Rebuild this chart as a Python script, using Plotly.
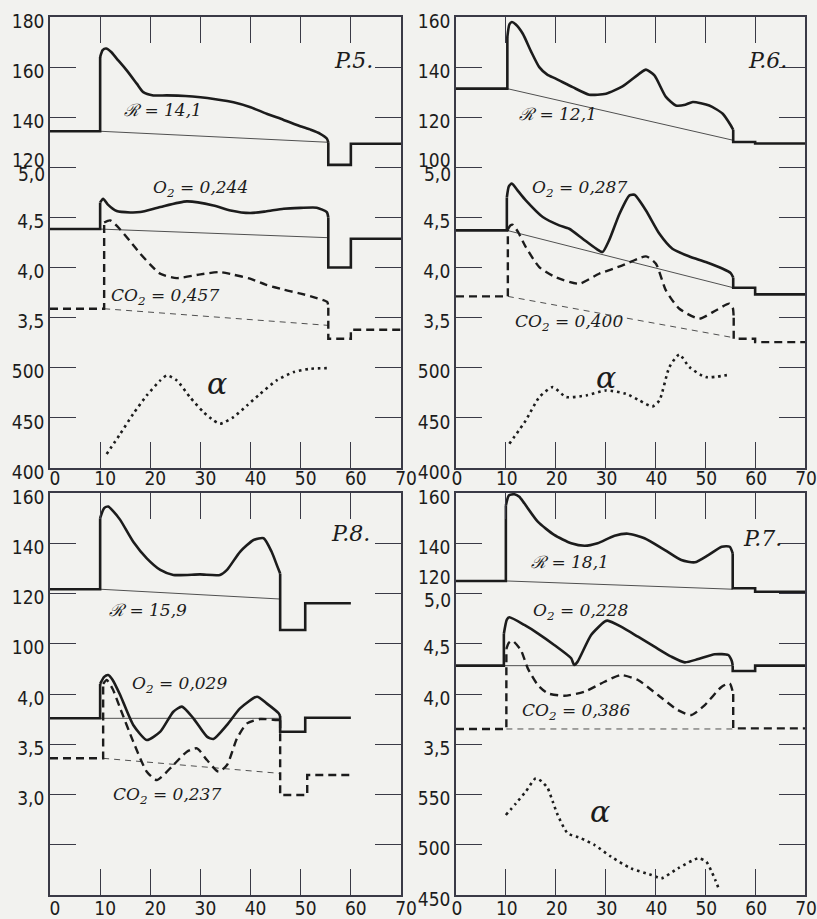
import plotly.graph_objects as go

W, H = 817, 919

# ---------------- DATA ----------------
X_TICKS = [0, 10, 20, 30, 40, 50, 60, 70]
X_TICK_TEXT = ["0", "10", "20", "30", "40", "50", "60", "70"]

# ---- P.5 ----
p5_R_x = [0, 10, 10, 10.5, 11.2, 12.2, 13.3, 15.3, 17.3, 18.6, 20.6, 23.3, 27, 30, 33, 36.6, 40, 43.2, 46.5, 49.9, 52, 53.9, 55.2, 55.5, 55.5, 60, 60, 70]
p5_R_y = [134.4, 134.4, 164, 166.8, 167.4, 166, 163.4, 158.7, 153.4, 150, 148.7, 148.7, 148.5, 148, 147.2, 146, 144, 141.4, 139, 136.4, 135, 133.4, 131.5, 130, 121, 121, 129.4, 129.4]
p5_O2_x = [0, 10, 10, 10.6, 11.5, 13.3, 16, 18, 22, 27.3, 32.6, 36, 39.9, 43, 46.6, 50, 53.2, 55.2, 55.5, 55.5, 60, 60, 70]
p5_O2_y = [4.384, 4.384, 4.65, 4.687, 4.63, 4.564, 4.55, 4.554, 4.604, 4.66, 4.62, 4.57, 4.544, 4.56, 4.587, 4.595, 4.597, 4.554, 4.5, 4.0, 4.0, 4.288, 4.288]
p5_CO2_x = [0, 10.8, 10.8, 12, 14, 16, 18, 20, 22, 25.3, 30, 33.9, 36.5, 39.9, 43, 46.6, 50, 53.2, 55.3, 55.5, 55.5, 60, 60, 70]
p5_CO2_y = [3.589, 3.589, 4.45, 4.471, 4.38, 4.26, 4.138, 4.03, 3.938, 3.895, 3.932, 3.955, 3.93, 3.889, 3.83, 3.779, 3.74, 3.696, 3.656, 3.6, 3.29, 3.29, 3.38, 3.38]
p5_A_x = [11.3, 14, 16.6, 19.3, 22, 23.3, 25.3, 27.9, 30.6, 32.6, 33.9, 36.6, 39.3, 41.9, 45.2, 48.6, 51.9, 55.6]
p5_A_y = [414, 434, 454, 472.4, 487.4, 492.4, 487.4, 470.7, 455.8, 447.5, 444.1, 450.8, 462.4, 474, 487.4, 495.7, 499, 499.7]
p5_R_base = ([10, 55.5], [134.4, 130])
p5_O2_base = ([10, 55.5], [4.384, 4.298])
p5_CO2_base = ([10.8, 55.5], [3.589, 3.423])

# ---- P.6 ----
p6_R_x = [0, 10.3, 10.3, 10.7, 11.2, 12, 13.4, 15, 16.7, 18.3, 20, 23.4, 26.7, 30.1, 33.4, 36.8, 38.1, 39.8, 42.1, 44.1, 46, 47.5, 50.8, 53.5, 55.1, 55.6, 55.6, 60, 60, 70]
p6_R_y = [131.4, 131.4, 152, 157, 158, 157, 153.3, 146.5, 140, 137, 135.4, 132, 129, 129.4, 132.3, 137.4, 139, 136.7, 128.1, 124.7, 125, 126.1, 124.7, 121.4, 116.8, 115, 110.1, 110.1, 109.5, 109.5]
p6_O2_x = [0, 10.2, 10.2, 10.6, 11.2, 12.5, 14, 17.4, 20.7, 22.7, 25.4, 28.1, 29.4, 30.7, 32.8, 34.8, 35.8, 38.1, 40.8, 43.4, 46.8, 50.1, 53.5, 55.1, 55.6, 55.6, 60, 60, 70]
p6_O2_y = [4.371, 4.371, 4.7, 4.81, 4.837, 4.76, 4.67, 4.504, 4.421, 4.387, 4.288, 4.188, 4.155, 4.271, 4.537, 4.72, 4.726, 4.57, 4.337, 4.188, 4.111, 4.055, 3.988, 3.945, 3.9, 3.799, 3.799, 3.732, 3.732]
p6_CO2_x = [0, 10.4, 10.4, 10.9, 11.4, 12.5, 14, 16.7, 20, 24.7, 28.7, 33.4, 38.1, 40.1, 42.1, 44.8, 48.8, 52.1, 54.8, 55.5, 55.7, 55.7, 60, 60, 70]
p6_CO2_y = [3.712, 3.712, 4.38, 4.42, 4.427, 4.35, 4.205, 4.005, 3.903, 3.839, 3.938, 4.021, 4.111, 4.038, 3.772, 3.589, 3.49, 3.572, 3.64, 3.6, 3.5, 3.29, 3.29, 3.256, 3.256]
p6_A_x = [10.7, 14, 16.7, 19.4, 22.1, 26.1, 30.1, 34.1, 36.8, 39.4, 40.8, 42.8, 44.8, 46.8, 50.1, 55.1]
p6_A_y = [424.2, 447.5, 470.7, 480.7, 470.8, 472.4, 477.4, 474, 467.4, 461.4, 467.4, 500.7, 513.3, 500.7, 490.7, 493.3]
p6_R_base = ([10.3, 55.6], [131.4, 110.8])
p6_O2_base = ([10.2, 55.6], [4.371, 3.799])
p6_CO2_base = ([10.4, 55.7], [3.712, 3.30])

# ---- P.8 ----
p8_R_x = [0, 10, 10, 10.8, 11.6, 12.5, 14, 16.6, 19.3, 22, 24.6, 29.9, 33.9, 35.3, 37.9, 40.6, 42.6, 44.2, 45.3, 45.9, 45.9, 50.9, 50.9, 60]
p8_R_y = [121.7, 121.7, 150, 154, 154.6, 153, 149.3, 140.6, 134, 129.4, 127.4, 127.6, 127.4, 129.4, 136.6, 141.3, 142, 136.6, 131, 128, 105.5, 105.5, 116.1, 116.1]
p8_O2_x = [0, 10, 10, 10.8, 11.6, 12.5, 14, 16.6, 19.3, 22, 24.6, 26.3, 28.6, 31.3, 32.6, 35.3, 37.9, 41.3, 43.2, 45.6, 45.9, 45.9, 50.9, 50.9, 60]
p8_O2_y = [3.758, 3.758, 4.1, 4.17, 4.189, 4.14, 3.99, 3.692, 3.542, 3.625, 3.824, 3.874, 3.758, 3.576, 3.552, 3.692, 3.857, 3.973, 3.907, 3.808, 3.78, 3.625, 3.625, 3.764, 3.764]
p8_CO2_x = [0, 10.6, 10.6, 11.3, 12.5, 14, 16.6, 19.3, 21.3, 24.6, 27.3, 29.3, 31.3, 33.6, 35.3, 37.3, 39.3, 41.9, 45.2, 45.9, 45.9, 51.3, 51.3, 60]
p8_CO2_y = [3.36, 3.36, 4.1, 4.14, 4.05, 3.857, 3.526, 3.227, 3.144, 3.293, 3.426, 3.459, 3.343, 3.227, 3.293, 3.559, 3.708, 3.751, 3.741, 3.74, 2.995, 2.995, 3.194, 3.194]
p8_R_base = ([10, 45.9], [121.7, 117.8])
p8_O2_base = ([10, 45.9], [3.758, 3.758])
p8_CO2_base = ([10.6, 45.9], [3.36, 3.21])

# ---- P.7 ----
p7_R_x = [0, 10, 10, 10.6, 11.7, 12.7, 13.7, 16.4, 19.7, 23.1, 25.8, 28.4, 31.8, 34.5, 37.8, 41.9, 45.2, 47.9, 50.6, 53.3, 54.9, 55.5, 55.5, 60, 60, 70]
p7_R_y = [125, 125, 155, 159, 159.5, 158.5, 155.9, 148.6, 143.3, 140, 139, 140, 143, 143.8, 142, 137.3, 133.3, 132.4, 135.3, 138.6, 138.6, 136, 122.1, 122.1, 120.7, 120.7]
p7_O2_x = [0, 9.6, 9.6, 10.2, 10.7, 13.7, 16.4, 19.7, 23.1, 23.7, 24.4, 27.1, 29.8, 30.4, 33.1, 36.5, 39.8, 43.2, 45.9, 48.6, 51.9, 54.6, 55.3, 55.5, 55.5, 60, 60, 70]
p7_O2_y = [4.282, 4.282, 4.6, 4.74, 4.763, 4.687, 4.604, 4.488, 4.355, 4.289, 4.322, 4.587, 4.72, 4.73, 4.67, 4.57, 4.471, 4.371, 4.315, 4.348, 4.395, 4.388, 4.33, 4.282, 4.229, 4.229, 4.282, 4.282]
p7_CO2_x = [0, 10.1, 10.1, 10.6, 11.3, 13, 14.4, 16.4, 18.4, 21.7, 25.8, 29.8, 33.1, 36.5, 40.5, 44.5, 47.2, 49.9, 53.3, 54.9, 55.6, 55.6, 70]
p7_CO2_y = [3.652, 3.652, 4.45, 4.51, 4.531, 4.438, 4.255, 4.09, 4.007, 3.983, 4.023, 4.122, 4.189, 4.139, 3.99, 3.84, 3.791, 3.89, 4.073, 4.106, 4.0, 3.658, 3.658]
p7_A_x = [10, 12, 14, 16, 17.2, 18.4, 19.4, 20.4, 22.4, 25.1, 27.8, 31.1, 35.1, 39.2, 41.2, 44.5, 48.6, 50.2, 51.2, 52, 52.8]
p7_A_y = [529.6, 541, 553, 566.1, 563, 556.2, 543, 529.6, 511.4, 506.4, 499.7, 488.1, 476.5, 469.9, 466.6, 476.5, 486.5, 483.2, 474, 465, 455]
p7_R_base = ([10, 55.5], [125, 121.7])
p7_O2_base = ([9.6, 55.5], [4.282, 4.282])
p7_CO2_base = ([10.1, 55.6], [3.652, 3.652])

# ---------------- STYLE ----------------
BG = '#f2f2ef'
INK = '#1c1c1c'
FRAME = '#3a3a46'
TICKFONT = "DejaVu Sans Condensed, Liberation Sans Narrow, DejaVu Sans, sans-serif"
LABFONT = "DejaVu Serif, Liberation Serif, serif"

fig = go.Figure()
layout = dict(
    width=W, height=H, margin=dict(l=0, r=0, t=0, b=0, autoexpand=False),
    paper_bgcolor=BG, plot_bgcolor=BG, showlegend=False, hovermode=False,
    annotations=[],
)

def dom_x(a, b):
    return [a / W, b / W]

def dom_y(top, bottom):
    return [1 - bottom / H, 1 - top / H]

common = dict(ticks='inside', ticklen=26, tickwidth=1.3, tickcolor=FRAME,
              showline=True, linecolor=FRAME, linewidth=1.5, mirror='ticks',
              showgrid=False, zeroline=False, automargin=False,
              tickfont=dict(family=TICKFONT, size=19, color=INK))

def add_xaxis(key, xpx, anchor, shift, standoff):
    layout[key] = dict(domain=dom_x(*xpx), range=[0, 70], anchor=anchor,
                       tickvals=X_TICKS, ticktext=X_TICK_TEXT, ticklabelshift=shift,
                       ticklabelstandoff=standoff, **common)

def add_yaxis(key, ypx, rng, vals, texts, xname, overlay=None):
    d = dict(domain=dom_y(*ypx), range=rng, anchor=xname, side='left',
             tickvals=vals, ticktext=texts, ticklabelshift=4, **common)
    if overlay:
        d['overlaying'] = overlay
    layout[key] = d

def _trace(x, y, xa, ya, ln, shape):
    fig.add_trace(go.Scatter(x=x, y=y, mode='lines', xaxis=xa, yaxis=ya,
                             line=dict(ln, shape=shape, **({'smoothing': 0.6} if shape == 'spline' else {}))))

def curve(x, y, xa, ya, width=2.6, dash='solid', color=INK):
    """Steps (vertical jumps) straight, the drawn curve between them smoothed."""
    ln = dict(color=color, width=width, dash=dash)
    vert = [i for i in range(len(x) - 1) if x[i] == x[i + 1]]
    if len(vert) < 2:
        _trace(x, y, xa, ya, ln, 'spline')
        return
    s, e = vert[0] + 1, vert[1]
    xs = x[:s + 1] + [None] + x[e:]
    ys = y[:s + 1] + [None] + y[e:]
    _trace(xs, ys, xa, ya, ln, 'linear')
    _trace(x[s:e + 1], y[s:e + 1], xa, ya, ln, 'spline')

def base(b, xa, ya, dash='solid'):
    fig.add_trace(go.Scatter(x=b[0], y=b[1], mode='lines', xaxis=xa, yaxis=ya,
                             line=dict(color='#505050', width=1, dash=dash)))

def label(text, x, y, xa, ya, size=17, family=LABFONT, italic=True):
    t = f"<i>{text}</i>" if italic else text
    layout['annotations'].append(dict(text=t, x=x, y=y, xref=xa, yref=ya,
                                      showarrow=False,
                                      font=dict(family=family, size=size, color=INK)))

def side_label(text, y, xa, ya, yshift):
    layout['annotations'].append(dict(text=text, x=0, y=y, xref=xa, yref=ya,
                                      xanchor='right', yanchor='middle',
                                      xshift=-3, yshift=yshift, showarrow=False,
                                      font=dict(family=TICKFONT, size=19, color=INK)))

DASH = '8px,5px'
THIN_DASH = '6px,5px'
DOT = '2.6px,3.8px'

# ---- Panel P.5 (top-left) ----
add_xaxis('xaxis', (50, 401), 'y', 5, -8)
add_yaxis('yaxis', (17, 468), [0, 180], [180, 160, 140, 120], ["180", "160", "140", ""], 'x')
add_yaxis('yaxis2', (17, 468), [2.0, 6.5], [5.0, 4.5, 4.0, 3.5], ["", "4,5", "4,0", "3,5"], 'x', 'y')
add_yaxis('yaxis3', (17, 468), [400, 850], [500, 450, 400], ["500", "450", "400"], 'x', 'y')
side_label("120", 120, 'x', 'y', 7)
side_label("5,0", 5.0, 'x', 'y2', -7)
base(p5_R_base, 'x', 'y')
base(p5_O2_base, 'x', 'y2')
base(p5_CO2_base, 'x', 'y2', THIN_DASH)
curve(p5_R_x, p5_R_y, 'x', 'y')
curve(p5_O2_x, p5_O2_y, 'x', 'y2')
curve(p5_CO2_x, p5_CO2_y, 'x', 'y2', 2.4, DASH)
curve(p5_A_x, p5_A_y, 'x', 'y3', 2.6, DOT)
label("ℛ = 14,1", 22.6, 142.7, 'x', 'y')
label("O<sub>2</sub> = 0,244", 30, 4.79, 'x', 'y2')
label("CO<sub>2</sub> = 0,457", 23, 3.71, 'x', 'y2')
label("α", 33.3, 484, 'x', 'y3', 30)
label("P.5.", 60.5, 162.7, 'x', 'y', 22)

# ---- Panel P.6 (top-right) ----
add_xaxis('xaxis2', (456, 805), 'y4', 1, -8)
add_yaxis('yaxis4', (17, 468), [-20, 160], [160, 140, 120, 100], ["160", "140", "120", ""], 'x2')
add_yaxis('yaxis5', (17, 468), [2.0, 6.5], [5.0, 4.5, 4.0, 3.5], ["", "4,5", "4,0", "3,5"], 'x2', 'y4')
add_yaxis('yaxis6', (17, 468), [400, 850], [500, 450, 400], ["500", "450", "400"], 'x2', 'y4')
side_label("100", 100, 'x2', 'y4', 7)
side_label("5,0", 5.0, 'x2', 'y5', -7)
base(p6_R_base, 'x2', 'y4')
base(p6_O2_base, 'x2', 'y5')
base(p6_CO2_base, 'x2', 'y5', THIN_DASH)
curve(p6_R_x, p6_R_y, 'x2', 'y4')
curve(p6_O2_x, p6_O2_y, 'x2', 'y5')
curve(p6_CO2_x, p6_CO2_y, 'x2', 'y5', 2.4, DASH)
curve(p6_A_x, p6_A_y, 'x2', 'y6', 2.6, DOT)
label("ℛ = 12,1", 20.4, 121.4, 'x2', 'y4')
label("O<sub>2</sub> = 0,287", 24.7, 4.79, 'x2', 'y5')
label("CO<sub>2</sub> = 0,400", 22.7, 3.456, 'x2', 'y5')
label("α", 30.1, 490.7, 'x2', 'y6', 30)
label("P.6.", 62.5, 142.7, 'x2', 'y4', 22)

# ---- Panel P.8 (bottom-left) ----
add_xaxis('xaxis3', (50, 401), 'y7', 5, -5)
add_yaxis('yaxis7', (493, 895), [0, 160], [160, 140, 120, 100], ["160", "140", "120", "100"], 'x3')
add_yaxis('yaxis8', (493, 895), [2.0, 6.0], [4.0, 3.5, 3.0, 2.5], ["4,0", "3,5", "3,0", " "], 'x3', 'y7')
base(p8_R_base, 'x3', 'y7')
base(p8_O2_base, 'x3', 'y8')
base(p8_CO2_base, 'x3', 'y8', THIN_DASH)
curve(p8_R_x, p8_R_y, 'x3', 'y7')
curve(p8_O2_x, p8_O2_y, 'x3', 'y8')
curve(p8_CO2_x, p8_CO2_y, 'x3', 'y8', 2.4, DASH)
label("ℛ = 15,9", 19.6, 113.4, 'x3', 'y7')
label("O<sub>2</sub> = 0,029", 25.9, 4.09, 'x3', 'y8')
label("CO<sub>2</sub> = 0,237", 23.3, 2.995, 'x3', 'y8')
label("P.8.", 60, 144, 'x3', 'y7', 22)

# ---- Panel P.7 (bottom-right) ----
add_xaxis('xaxis4', (456, 805), 'y9', 1, -5)
add_yaxis('yaxis9', (493, 895), [0, 160], [160, 140, 120], ["160", "140", ""], 'x4')
add_yaxis('yaxis10', (493, 895), [2.0, 6.0], [5.0, 4.5, 4.0, 3.5], ["", "4,5", "4,0", "3,5"], 'x4', 'y9')
add_yaxis('yaxis11', (493, 895), [450, 850], [550, 500, 450], ["550", "500", "450"], 'x4', 'y9')
side_label("120", 120, 'x4', 'y9', 17)
side_label("5,0", 5.0, 'x4', 'y10', -6)
base(p7_R_base, 'x4', 'y9')
base(p7_O2_base, 'x4', 'y10')
base(p7_CO2_base, 'x4', 'y10', THIN_DASH)
curve(p7_R_x, p7_R_y, 'x4', 'y9')
curve(p7_O2_x, p7_O2_y, 'x4', 'y10')
curve(p7_CO2_x, p7_CO2_y, 'x4', 'y10', 2.4, DASH)
curve(p7_A_x, p7_A_y, 'x4', 'y11', 2.6, DOT)
label("ℛ = 18,1", 22.9, 132.7, 'x4', 'y9')
label("O<sub>2</sub> = 0,228", 24.9, 4.82, 'x4', 'y10')
label("CO<sub>2</sub> = 0,386", 24.1, 3.824, 'x4', 'y10')
label("α", 28.8, 532.9, 'x4', 'y11', 30)
label("P.7.", 61.4, 142, 'x4', 'y9', 22)

fig.update_layout(**layout)
fig.write_html("out.html")
